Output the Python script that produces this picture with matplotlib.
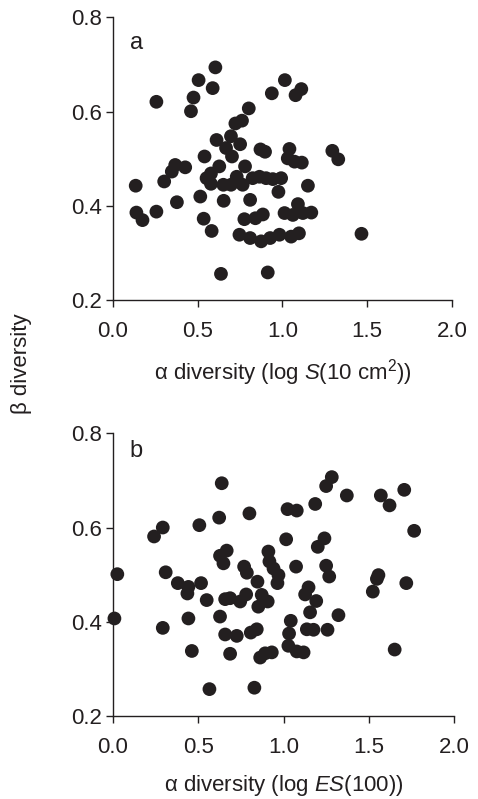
import matplotlib
matplotlib.use("Agg")
import matplotlib.pyplot as plt

plt.rcParams["font.family"] = ["Liberation Sans", "DejaVu Sans"]
plt.rcParams["mathtext.fontset"] = "custom"
plt.rcParams["mathtext.rm"] = "Liberation Sans"
plt.rcParams["mathtext.it"] = "Liberation Sans:italic"

INK = "#231f20"

# --- panel a: alpha = log S(10 cm2), beta diversity
a_alpha = [0.604, 0.505, 0.588, 0.256, 0.475, 0.460, 0.801, 0.722, 0.761, 0.696,
           0.611, 0.750, 0.667, 0.702, 0.870, 0.897, 0.540, 0.367, 0.426, 0.347,
           0.302, 0.134, 0.627, 0.578, 0.552, 0.578, 0.651, 0.696, 0.730, 0.779,
           0.765, 0.824, 0.864, 0.903, 0.943, 0.992, 0.976, 0.515, 0.653, 0.809,
           0.377, 0.138, 0.174, 0.256, 0.535, 0.582, 0.775, 0.840, 0.884, 0.746,
           0.809, 0.874, 0.927, 0.982, 0.637, 0.913, 1.014, 0.937, 1.077, 1.111,
           1.041, 1.031, 1.071, 1.114, 1.294, 1.329, 1.150, 1.091, 1.012, 1.061,
           1.120, 1.170, 1.051, 1.097, 1.466]
a_beta = [0.694, 0.667, 0.650, 0.621, 0.630, 0.601, 0.607, 0.575, 0.581, 0.548,
          0.540, 0.531, 0.523, 0.505, 0.520, 0.515, 0.505, 0.487, 0.482, 0.473,
          0.452, 0.443, 0.484, 0.469, 0.459, 0.447, 0.445, 0.445, 0.462, 0.484,
          0.445, 0.459, 0.462, 0.459, 0.457, 0.459, 0.430, 0.420, 0.411, 0.413,
          0.408, 0.386, 0.370, 0.388, 0.373, 0.347, 0.372, 0.374, 0.382, 0.339,
          0.332, 0.325, 0.332, 0.339, 0.256, 0.259, 0.667, 0.639, 0.635, 0.648,
          0.521, 0.501, 0.494, 0.492, 0.517, 0.499, 0.443, 0.404, 0.385, 0.381,
          0.385, 0.386, 0.335, 0.342, 0.341]

# --- panel b: alpha = log ES(100), beta diversity
b_alpha = [0.638, 0.027, 0.010, 0.293, 0.242, 0.507, 0.623, 0.800, 1.023, 1.077,
           1.015, 0.667, 0.628, 0.648, 0.310, 0.381, 0.443, 0.437, 0.517, 0.550,
           0.769, 0.785, 0.911, 0.917, 0.941, 0.970, 0.964, 0.847, 1.073, 0.658,
           0.687, 0.746, 0.781, 0.872, 0.907, 0.852, 0.443, 0.628, 0.293, 0.658,
           0.726, 0.808, 0.843, 0.463, 0.687, 0.863, 0.892, 0.931, 0.566, 0.829,
           1.042, 1.032, 1.028, 1.077,
           1.282, 1.249, 1.370, 1.185, 1.569, 1.620, 1.706, 1.764, 1.239, 1.200,
           1.249, 1.267, 1.555, 1.546, 1.522, 1.718, 1.146, 1.126, 1.191, 1.155,
           1.321, 1.136, 1.175, 1.257, 1.117, 1.650]
b_beta = [0.694, 0.501, 0.407, 0.600, 0.581, 0.605, 0.621, 0.630, 0.639, 0.636,
          0.575, 0.551, 0.540, 0.524, 0.505, 0.482, 0.474, 0.460, 0.482, 0.446,
          0.517, 0.504, 0.549, 0.528, 0.513, 0.499, 0.482, 0.485, 0.517, 0.448,
          0.450, 0.443, 0.458, 0.457, 0.443, 0.432, 0.407, 0.411, 0.387, 0.373,
          0.370, 0.377, 0.384, 0.338, 0.332, 0.324, 0.333, 0.335, 0.257, 0.260,
          0.402, 0.375, 0.349, 0.337,
          0.707, 0.688, 0.668, 0.650, 0.668, 0.647, 0.680, 0.593, 0.577, 0.559,
          0.519, 0.496, 0.499, 0.491, 0.464, 0.482, 0.473, 0.458, 0.444, 0.420,
          0.414, 0.384, 0.383, 0.383, 0.335, 0.341]

x_ticks = [0.0, 0.5, 1.0, 1.5, 2.0]
y_ticks = [0.2, 0.4, 0.6, 0.8]

fig = plt.figure(figsize=(4.78, 7.99), dpi=100)
ax_a = fig.add_axes([0.2364, 0.6242, 0.7092, 0.3540])
ax_b = fig.add_axes([0.2358, 0.1039, 0.7150, 0.3538])

panels = [
    (ax_a, a_alpha, a_beta, "a", 0.887, "α diversity (log $S$(10 cm$^{2}$))"),
    (ax_b, b_alpha, b_beta, "b", 0.915, "α diversity (log $ES$(100))"),
]
for ax, xs, ys, tag, tag_y, xlab in panels:
    ax.scatter(xs, ys, s=98, c=INK, edgecolors="none", clip_on=False, zorder=3)
    ax.set_xlim(0, 2.0)
    ax.set_ylim(0.2, 0.8)
    ax.set_xticks(x_ticks)
    ax.set_yticks(y_ticks)
    ax.set_xticklabels([f"{t:.1f}" for t in x_ticks])
    ax.set_yticklabels([f"{t:.1f}" for t in y_ticks])
    for s in ("top", "right"):
        ax.spines[s].set_visible(False)
    for s in ("left", "bottom"):
        ax.spines[s].set_color(INK)
        ax.spines[s].set_linewidth(1.0)
    ax.tick_params(axis="x", direction="out", length=5, width=1.0, color=INK,
                   labelsize=16, pad=10, labelcolor=INK)
    ax.tick_params(axis="y", direction="out", length=5, width=1.0, color=INK,
                   labelsize=16, pad=3, labelcolor=INK)
    ax.set_xlabel(xlab, fontsize=16, color=INK, labelpad=11)
    ax.text(0.05, tag_y, tag, transform=ax.transAxes, fontsize=17, color=INK,
            ha="left", va="baseline")

fig.text(0.045, 0.545, "β diversity", rotation=90, fontsize=16, color=INK,
         ha="center", va="center")

fig.savefig("out.png", dpi=100)
